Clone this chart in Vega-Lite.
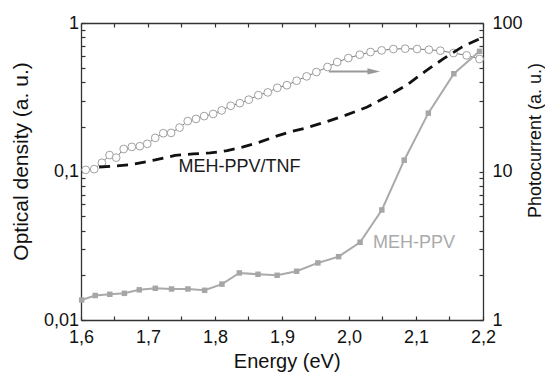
{
  "$schema": "https://vega.github.io/schema/vega-lite/v6.json",
  "width": 402,
  "height": 297,
  "autosize": {"type": "none"},
  "padding": {"left": 81, "top": 23, "right": 62, "bottom": 52},
  "background": "white",
  "config": {
    "view": {"stroke": null},
    "font": "Liberation Sans",
    "axis": {
      "domainColor": "#333",
      "tickColor": "#333",
      "domainWidth": 1.3,
      "tickWidth": 1.2,
      "tickSize": -4,
      "labelFontSize": 18,
      "labelColor": "#111",
      "titleColor": "#111",
      "titleFontWeight": "normal",
      "labelFont": "Liberation Sans",
      "titleFont": "Liberation Sans",
      "grid": false,
      "labelOverlap": false,
      "labelFlush": false,
      "labelBound": false
    }
  },
  "layer": [
    {
      "encoding": {
        "x": {
          "field": "E", "type": "quantitative",
          "scale": {"domain": [1.6, 2.2], "nice": false, "zero": false},
          "axis": {"orient": "top", "values": [1.6,1.65,1.7,1.75,1.8,1.85,1.9,1.95,2.0,2.05,2.1,2.15,2.2], "labels": false, "title": null}
        },
        "y": {
          "field": "v", "type": "quantitative",
          "scale": {"type": "log", "domain": [1, 100], "nice": false},
          "axis": {
            "orient": "right",
            "values": [1,2,3,4,5,6,7,8,9,10,20,30,40,50,60,70,80,90,100],
            "labelExpr": "datum.value == 1 ? '1' : datum.value == 10 ? '10' : datum.value == 100 ? '100' : ''",
            "labelPadding": 13,
            "title": "Photocurrent  (a. u.)",
            "titleFontSize": 18,
            "titleAngle": 270,
            "titleX": 57,
            "titleY": 117,
            "titleAlign": "center",
            "titleBaseline": "alphabetic"
          }
        }
      },
      "layer": [
        {
          "data": {"name": "pc"},
          "mark": {"type": "line", "color": "#555", "strokeWidth": 0.8}
        },
        {
          "data": {"name": "pc"},
          "mark": {"type": "point", "shape": "circle", "size": 60, "filled": false, "fill": "white", "fillOpacity": 1, "stroke": "#a0a0a0", "strokeWidth": 1, "opacity": 1}
        },
        {
          "data": {"name": "arrow"},
          "mark": {"type": "line", "color": "#999", "strokeWidth": 2}
        },
        {
          "data": {"name": "arrowhead"},
          "mark": {"type": "point", "shape": "M-1,-0.5L1,0L-1,0.5Z", "size": 160, "filled": true, "color": "#999", "opacity": 1}
        }
      ]
    },
    {
      "encoding": {
        "x": {
          "field": "E", "type": "quantitative",
          "scale": {"domain": [1.6, 2.2], "nice": false, "zero": false},
          "axis": {
            "orient": "bottom",
            "values": [1.6,1.65,1.7,1.75,1.8,1.85,1.9,1.95,2.0,2.05,2.1,2.15,2.2],
            "labelExpr": "abs(datum.value*10 - round(datum.value*10)) < 0.000001 ? replace(format(datum.value, '.1f'), '.', ',') : ''",
            "labelPadding": 12.7,
            "title": "Energy (eV)",
            "titleFontSize": 20,
            "titleX": 205.7,
            "titleY": 47,
            "titleAlign": "center",
            "titleBaseline": "alphabetic"
          }
        },
        "y": {
          "field": "v", "type": "quantitative",
          "scale": {"type": "log", "domain": [0.01, 1], "nice": false},
          "axis": {
            "orient": "left",
            "values": [0.01,0.02,0.03,0.04,0.05,0.06,0.07,0.08,0.09,0.1,0.2,0.3,0.4,0.5,0.6,0.7,0.8,0.9,1],
            "labelExpr": "datum.value == 0.01 ? '0,01' : datum.value == 0.1 ? '0,1' : datum.value == 1 ? '1' : ''",
            "labelPadding": 6.4,
            "title": "Optical density (a. u.)",
            "titleFontSize": 21,
            "titleAngle": 270,
            "titleX": -53.6,
            "titleY": 138,
            "titleAlign": "center",
            "titleBaseline": "alphabetic"
          }
        }
      },
      "layer": [
        {
          "data": {"name": "tnf"},
          "mark": {"type": "line", "color": "#111", "strokeWidth": 2.8, "strokeDash": [11, 7]}
        },
        {
          "data": {"name": "meh"},
          "mark": {"type": "line", "color": "#aaa", "strokeWidth": 2, "point": {"shape": "square", "size": 30, "filled": true, "color": "#a6a6a6", "opacity": 1}}
        },
        {
          "data": {"values": [{"E": 1.7455, "v": 0.1077, "label": "MEH-PPV/TNF"}]},
          "mark": {"type": "text", "align": "left", "baseline": "middle", "fontSize": 18, "color": "#1a1a1a", "font": "Liberation Sans"},
          "encoding": {"text": {"field": "label"}}
        },
        {
          "data": {"values": [{"E": 2.0357, "v": 0.0331, "label": "MEH-PPV"}]},
          "mark": {"type": "text", "align": "left", "baseline": "middle", "fontSize": 18, "color": "#aaaaaa", "font": "Liberation Sans"},
          "encoding": {"text": {"field": "label"}}
        }
      ]
    }
  ],
  "resolve": {"scale": {"x": "independent", "y": "independent"}},
  "datasets": {
    "pc": [
      {"E": 1.607, "v": 10.26}, {"E": 1.6197, "v": 10.37}, {"E": 1.6312, "v": 11.45}, {"E": 1.6426, "v": 12.9},
      {"E": 1.6525, "v": 12.4}, {"E": 1.6637, "v": 14.17}, {"E": 1.6758, "v": 14.65}, {"E": 1.6878, "v": 14.8},
      {"E": 1.6989, "v": 15.36}, {"E": 1.7108, "v": 16.85}, {"E": 1.7228, "v": 18.1}, {"E": 1.7345, "v": 18.2},
      {"E": 1.7471, "v": 19.75}, {"E": 1.7593, "v": 21.85}, {"E": 1.7717, "v": 22.6}, {"E": 1.7839, "v": 23.6},
      {"E": 1.7973, "v": 24.4}, {"E": 1.81, "v": 25.8}, {"E": 1.8235, "v": 27.7}, {"E": 1.837, "v": 28.85},
      {"E": 1.8504, "v": 30.45}, {"E": 1.8646, "v": 32.65}, {"E": 1.8788, "v": 34.1}, {"E": 1.893, "v": 36.6},
      {"E": 1.9073, "v": 38.1}, {"E": 1.9218, "v": 40.86}, {"E": 1.9368, "v": 43.7}, {"E": 1.9513, "v": 46.74},
      {"E": 1.9679, "v": 50.52}, {"E": 1.9824, "v": 54.59}, {"E": 1.999, "v": 58.08}, {"E": 2.0161, "v": 61.16},
      {"E": 2.0321, "v": 63.75}, {"E": 2.0487, "v": 65.42}, {"E": 2.0663, "v": 66.79}, {"E": 2.0839, "v": 67.14},
      {"E": 2.1016, "v": 66.79}, {"E": 2.1192, "v": 66.1}, {"E": 2.1363, "v": 65.08}, {"E": 2.156, "v": 62.77},
      {"E": 2.1756, "v": 60.54}, {"E": 2.1948, "v": 57.19}
    ],
    "arrow": [{"E": 1.97, "v": 47.2}, {"E": 2.031, "v": 47.2}],
    "arrowhead": [{"E": 2.037, "v": 47.2}],
    "tnf": [
      {"E": 1.627, "v": 0.1072}, {"E": 1.6511, "v": 0.1089}, {"E": 1.6749, "v": 0.1112}, {"E": 1.7107, "v": 0.1196},
      {"E": 1.7406, "v": 0.1283}, {"E": 1.7675, "v": 0.1313}, {"E": 1.7928, "v": 0.1334}, {"E": 1.8182, "v": 0.1382},
      {"E": 1.8421, "v": 0.1464}, {"E": 1.8675, "v": 0.1582}, {"E": 1.8928, "v": 0.1738}, {"E": 1.9122, "v": 0.1849},
      {"E": 1.9346, "v": 0.1958}, {"E": 1.9675, "v": 0.217}, {"E": 1.9943, "v": 0.2389}, {"E": 2.0272, "v": 0.2716},
      {"E": 2.057, "v": 0.3202}, {"E": 2.0869, "v": 0.3842}, {"E": 2.1137, "v": 0.4724}, {"E": 2.1406, "v": 0.573},
      {"E": 2.169, "v": 0.6908}, {"E": 2.1988, "v": 0.798}
    ],
    "meh": [
      {"E": 1.601, "v": 0.01364}, {"E": 1.6212, "v": 0.01462}, {"E": 1.643, "v": 0.0149}, {"E": 1.6648, "v": 0.01512},
      {"E": 1.687, "v": 0.01596}, {"E": 1.7109, "v": 0.01635}, {"E": 1.7352, "v": 0.01618}, {"E": 1.7596, "v": 0.01618},
      {"E": 1.7845, "v": 0.01585}, {"E": 1.8104, "v": 0.01745}, {"E": 1.8363, "v": 0.02075}, {"E": 1.8642, "v": 0.02032},
      {"E": 1.8927, "v": 0.02}, {"E": 1.9218, "v": 0.02129}, {"E": 1.9535, "v": 0.02423}, {"E": 1.9845, "v": 0.0267},
      {"E": 2.0165, "v": 0.03339}, {"E": 2.049, "v": 0.0551}, {"E": 2.0824, "v": 0.1192}, {"E": 2.1184, "v": 0.2472},
      {"E": 2.1565, "v": 0.4554}, {"E": 2.1948, "v": 0.6442}
    ]
  }
}
